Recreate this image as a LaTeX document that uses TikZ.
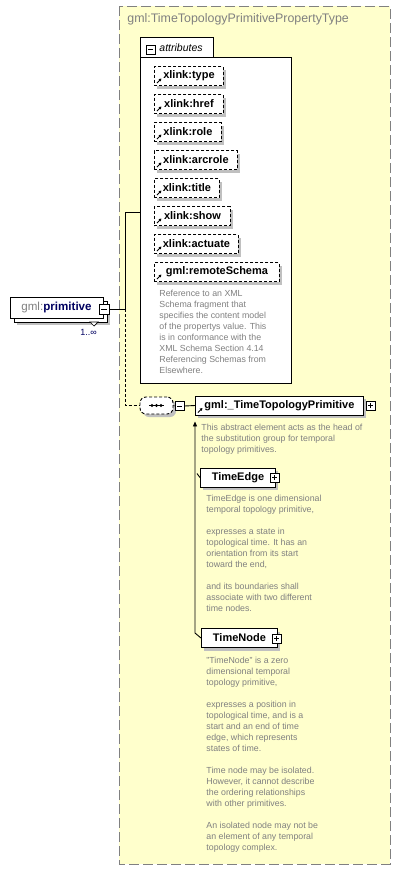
\documentclass[tikz,border=0pt]{standalone}
\usepackage{fontspec}
\setmainfont{Liberation Sans}
\usetikzlibrary{arrows.meta}

\definecolor{panel}{RGB}{255,255,204}
\definecolor{frame}{RGB}{128,128,128}
\definecolor{note}{RGB}{128,128,128}
\definecolor{shade}{RGB}{192,192,192}
\definecolor{navy}{RGB}{0,0,96}

\tikzset{
  shadowed/.style={preaction={fill=shade, transform canvas={shift={(3pt,-3pt)}}}},
  elem/.style={draw, fill=white, shadowed, minimum height=19pt, inner sep=0pt,
    anchor=west, font=\fontsize{11}{13}\selectfont\bfseries},
  ref/.style={path picture={\draw[solid, line width=0.9pt, -{Triangle[length=2.5pt,width=2.8pt]}]
    ([shift={(2.5pt,2.5pt)}]path picture bounding box.south west) --
    ([shift={(7pt,7pt)}]path picture bounding box.south west);}},
  attrib/.style={elem, ref, dash pattern=on 3pt off 2pt},
  doc/.style={anchor=north west, inner sep=0pt, align=left, text=note,
    font=\fontsize{8.8}{11}\selectfont},
  pm/.style={draw, fill=white, minimum size=9pt, inner sep=0pt},
  minus/.style={pm, path picture={\draw
    ([xshift=2pt]path picture bounding box.west) -- ([xshift=-2pt]path picture bounding box.east);}},
  plus/.style={pm, path picture={\draw
    ([xshift=2pt]path picture bounding box.west) -- ([xshift=-2pt]path picture bounding box.east)
    ([yshift=2pt]path picture bounding box.south) -- ([yshift=-2pt]path picture bounding box.north);}},
}

\begin{document}
\begin{tikzpicture}[x=1pt, y=-1pt, line width=0.9pt]
  \useasboundingbox (0,0) rectangle (401,870);

  % complex type panel
  \draw[frame, fill=panel, dash pattern=on 10pt off 4pt] (119,6) rectangle (390,864);
  \node[anchor=west, inner sep=0pt, text=frame, font=\fontsize{12.4}{14}\selectfont] (title) at (127,19)
    {gml:TimeTopologyPrimitivePropertyType};

  % attributes group
  \node[draw, fill=white, minimum width=151pt, minimum height=326pt, inner sep=0pt, anchor=north west] (attrbox) at (140,57) {};
  \node[fill=white, minimum width=73pt, minimum height=19pt, inner sep=0pt, anchor=south west] (attrtab) at (attrbox.north west) {};
  \draw (attrtab.south west) |- (attrtab.north east) -- (attrtab.south east);
  \node[minus] (attrmin) at (150.5,49.5) {};
  \node[anchor=west, inner sep=0pt, font=\fontsize{10.5}{12}\selectfont\itshape] (attrlabel) at (159,48) {attributes};

  \node[attrib, minimum width=69pt] (type) at (154,76) {xlink:type};
  \node[attrib, minimum width=69pt] (href) at (154,104) {xlink:href};
  \node[attrib, minimum width=67pt] (role) at (154,132) {xlink:role};
  \node[attrib, minimum width=83pt] (arcrole) at (154,160) {xlink:arcrole};
  \node[attrib, minimum width=65pt] (xtitle) at (154,188) {xlink:title};
  \node[attrib, minimum width=76pt] (show) at (154,216) {xlink:show};
  \node[attrib, minimum width=84pt] (actuate) at (154,244) {xlink:actuate};
  \node[attrib, minimum width=125pt] (remote) at (154,272) {gml:remoteSchema};
  \node[doc] (remotedoc) at (159,290) {Reference to an XML\\Schema fragment that\\specifies the content model\\of the propertys value. This\\is in conformance with the\\XML Schema Section 4.14\\Referencing Schemas from\\Elsewhere.};

  % element primitive
  \node[draw, fill=white, shadowed, minimum width=93pt, minimum height=21pt] (pback) at (60.5,311.5) {};
  \node[draw, fill=white, minimum width=93pt, minimum height=21pt, inner sep=0pt,
    font=\fontsize{11.6}{13}\selectfont] (prim) at (56.5,307.5)
    {\textcolor{note}{gml:}\textcolor{navy}{\bfseries primitive}\hspace{6pt}};
  \draw[fill=white, line width=0.7pt] (90,322) -- (98,322) -- (94,326) -- cycle;
  \node[minus, minimum size=10pt] (pmin) at (104,309) {};
  \node[inner sep=0pt, text=navy, font=\fontsize{9}{11}\selectfont] (mult) at (88.5,332) {1..∞};

  % sequence
  \node[draw, fill=white, shadowed, dash pattern=on 3pt off 2pt, rounded corners=6pt,
    minimum width=33pt, minimum height=17pt] (seq) at (156.5,405.5) {};
  \draw (seq.center) ++(-7.5,0) -- ++(15,0);
  \fill (seq.center) ++(-4.5,0) circle (1.6pt);
  \fill (seq.center) circle (1.6pt);
  \fill (seq.center) ++(4.5,0) circle (1.6pt);
  \node[minus] (seqmin) at (179.5,406) {};

  % substitution group
  \node[elem, ref, minimum width=168pt] (ttp) at (195,405.5) {gml:\_TimeTopologyPrimitive};
  \node[plus] (ttpplus) at (370.5,405.5) {};
  \node[doc] (ttpdoc) at (201,424) {This abstract element acts as the head of\\the substitution group for temporal\\topology primitives.};

  \node[elem, minimum width=75pt] (tedge) at (200,477.5) {TimeEdge};
  \node[plus] (tedgeplus) at (274.5,477.5) {};
  \node[doc] (tedgedoc) at (206,495) {TimeEdge is one dimensional\\temporal topology primitive,\\[11pt]expresses a state in\\topological time. It has an\\orientation from its start\\toward the end,\\[11pt]and its boundaries shall\\associate with two different\\time nodes.};

  \node[elem, minimum width=76pt] (tnode) at (201,638) {TimeNode};
  \node[plus] (tnodeplus) at (276.5,638.5) {};
  \node[doc] (tnodedoc) at (206,657) {"TimeNode" is a zero\\dimensional temporal\\topology primitive,\\[11pt]expresses a position in\\topological time, and is a\\start and an end of time\\edge, which represents\\states of time.\\[11pt]Time node may be isolated.\\However, it cannot describe\\the ordering relationships\\with other primitives.\\[11pt]An isolated node may not be\\an element of any temporal\\topology complex.};

  % connectors
  \coordinate (fork) at (125,309);
  \draw (pmin.east) -- (fork);
  \draw (fork) |- ([yshift=8pt]attrbox.west);
  \draw[dash pattern=on 3pt off 2pt] (fork) |- (seq.west);
  \draw (seq.east) -- (seqmin.west);
  \draw (seqmin.east) -- (ttp.west);
  \draw[-{Triangle[length=5pt,width=4pt]}] (tnode.west) -- ++(-6,-5) -- ([yshift=-6pt]ttp.south west);
  \draw (tedge.west) -- ++(-3,-4);
\end{tikzpicture}
\end{document}
